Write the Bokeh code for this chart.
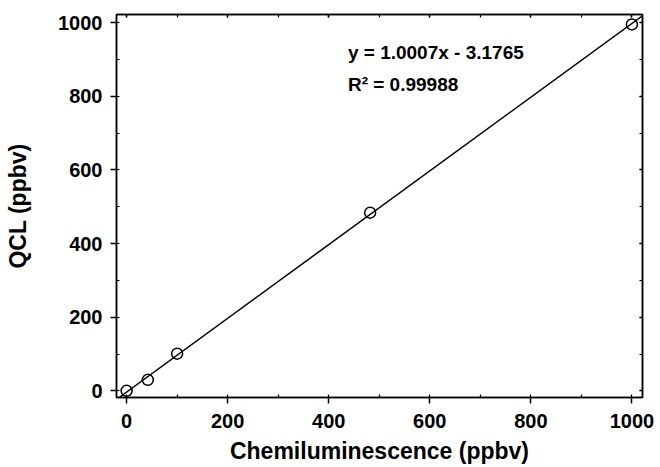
from bokeh.plotting import figure
from bokeh.models import Range1d, LinearAxis, SingleIntervalTicker, Slope, Label, CustomJSTickFormatter
from bokeh.embed import file_html
from bokeh.resources import INLINE

# data
chemi = [0, 42, 100, 482, 1000]
qcl = [0, 30, 101, 484, 995]
fit_slope = 1.0007
fit_intercept = -3.1765
eq_text = "y = 1.0007x - 3.1765"
r2_text = "R\u00b2 = 0.99988"
x_title = "Chemiluminescence (ppbv)"
y_title = "QCL (ppbv)"

FONT = "Liberation Sans"

p = figure(width=660, height=467, output_backend="svg", toolbar_location=None,
           x_range=Range1d(-20, 1021), y_range=Range1d(-18, 1022),
           min_border_left=116, min_border_right=18, min_border_top=14, min_border_bottom=70,
           x_axis_type=None, y_axis_type=None)
p.grid.visible = False
p.outline_line_color = "black"
p.outline_line_width = 1.5
p.background_fill_color = "white"
p.border_fill_color = "white"

def make_axis(labels=True, outside=True):
    ax = LinearAxis(ticker=SingleIntervalTicker(interval=200, num_minor_ticks=2))
    ax.axis_line_color = "black"
    ax.axis_line_width = 1.5
    ax.major_tick_line_width = 1.5
    ax.minor_tick_line_width = 1.2
    ax.minor_tick_in = 3
    ax.minor_tick_out = 0
    if outside:
        ax.major_tick_out = 6
        ax.major_tick_in = 0
    else:
        ax.major_tick_out = 0
        ax.major_tick_in = 3
    if labels:
        ax.major_label_text_font = FONT
        ax.major_label_text_font_style = "bold"
        ax.major_label_text_font_size = "20px"
        ax.major_label_text_color = "black"
        ax.axis_label_text_font = FONT
        ax.axis_label_text_font_style = "bold"
        ax.axis_label_text_font_size = "23px"
        ax.axis_label_text_color = "black"
    else:
        ax.formatter = CustomJSTickFormatter(code="return ''")
        ax.major_label_standoff = 0
    return ax

xb = make_axis()
xb.axis_label = x_title
xb.major_label_standoff = 10
xb.axis_label_standoff = 7
p.add_layout(xb, "below")

yl = make_axis()
yl.axis_label = y_title
yl.major_label_standoff = 8
yl.axis_label_standoff = 24
p.add_layout(yl, "left")

p.add_layout(make_axis(labels=False, outside=False), "above")
p.add_layout(make_axis(labels=False, outside=False), "right")

p.add_layout(Slope(gradient=fit_slope, y_intercept=fit_intercept,
                   line_color="black", line_width=1.5))

p.scatter(chemi, qcl, marker="circle", size=11, fill_color=None,
          line_color="black", line_width=1.5)

def txt(x, y, s, size, **kw):
    return Label(x=x, y=y, text=s, text_font=FONT, text_font_style="bold",
                 text_font_size=size, text_color="black", **kw)

p.add_layout(txt(438, 918, eq_text, "19px", text_baseline="alphabetic"))
p.add_layout(txt(438, 832, r2_text, "19px", text_baseline="alphabetic"))

open("out.html", "w").write(file_html(p, INLINE))
